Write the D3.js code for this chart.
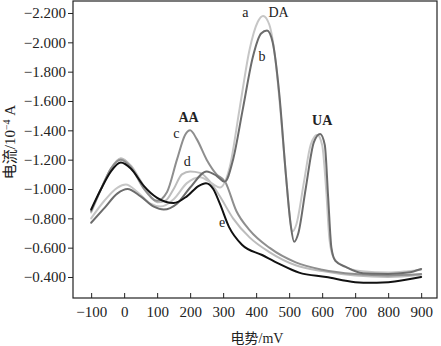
<!DOCTYPE html>
<html><head><meta charset="utf-8">
<script src="https://cdn.jsdelivr.net/npm/d3@7"></script>
<style>
html,body{margin:0;padding:0;background:#fff;}
svg{display:block;}
text{font-family:"Liberation Serif","Times New Roman","Noto Sans CJK SC",serif;fill:#222;}
</style></head>
<body>
<svg id="chart" width="441" height="346"></svg>
<script>
// potential (mV) vs current (10^-4 A, negative values)
const curveA = [[-100,-0.80],[-60,-0.92],[-20,-1.01],[5,-1.03],[40,-0.98],[80,-0.90],[110,-0.88],[150,-0.93],[190,-1.04],[230,-1.08],[265,-1.04],[290,-1.01],[320,-1.15],[350,-1.55],[380,-1.95],[405,-2.14],[421,-2.18],[440,-2.12],[460,-1.85],[475,-1.50],[490,-1.10],[500,-0.85],[509,-0.71],[522,-0.76],[545,-1.05],[565,-1.30],[585,-1.37],[600,-1.30],[612,-1.00],[622,-0.66],[635,-0.53],[660,-0.48],[720,-0.44],[800,-0.43],[860,-0.44],[900,-0.45]];
const curveB = [[-100,-0.77],[-60,-0.87],[-20,-0.97],[10,-1.00],[50,-0.95],[90,-0.88],[120,-0.86],[160,-0.90],[200,-1.01],[250,-1.12],[280,-1.09],[305,-1.05],[330,-1.20],[360,-1.55],[390,-1.90],[415,-2.06],[433,-2.08],[450,-2.00],[470,-1.65],[490,-1.10],[505,-0.75],[515,-0.64],[528,-0.70],[550,-1.00],[575,-1.32],[594,-1.375],[608,-1.30],[618,-0.95],[628,-0.60],[640,-0.51],[670,-0.47],[724,-0.425],[800,-0.42],[860,-0.43],[900,-0.455]];
const curveC = [[-100,-0.85],[-70,-1.00],[-40,-1.14],[-10,-1.20],[20,-1.15],[60,-1.00],[100,-0.92],[130,-0.98],[160,-1.20],[185,-1.37],[200,-1.40],[220,-1.34],[250,-1.20],[280,-1.10],[306,-1.05],[340,-0.85],[380,-0.72],[440,-0.60],[520,-0.50],[600,-0.45],[700,-0.42],[800,-0.41],[900,-0.42]];
const curveD = [[-100,-0.84],[-70,-1.00],[-40,-1.14],[-10,-1.21],[20,-1.16],[60,-1.02],[100,-0.91],[125,-0.92],[150,-1.00],[175,-1.10],[200,-1.12],[230,-1.11],[260,-1.05],[290,-0.95],[330,-0.80],[380,-0.67],[440,-0.57],[520,-0.48],[600,-0.44],[700,-0.41],[800,-0.40],[900,-0.415]];
const curveE = [[-100,-0.86],[-70,-1.00],[-40,-1.12],[-10,-1.18],[20,-1.14],[60,-1.02],[100,-0.94],[150,-0.905],[190,-0.95],[225,-1.02],[248,-1.04],[270,-1.00],[290,-0.90],[318,-0.74],[357,-0.62],[418,-0.55],[470,-0.49],[530,-0.43],[612,-0.40],[700,-0.365],[750,-0.36],[820,-0.37],[900,-0.40]];
const seriesNames = ["a","b","c","d","e"];
const xTicks = [-100,0,100,200,300,400,500,600,700,800,900];
const yTicks = [-2.2,-2.0,-1.8,-1.6,-1.4,-1.2,-1.0,-0.8,-0.6,-0.4];
const peakLabels = [{t:"a",x:367,y:-2.20,b:false},{t:"DA",x:468,y:-2.20,b:false},{t:"b",x:418,y:-1.90,b:false},
  {t:"AA",x:195,y:-1.49,b:true},{t:"c",x:158,y:-1.375,b:false},{t:"d",x:191,y:-1.19,b:false},
  {t:"e",x:297,y:-0.77,b:false},{t:"UA",x:600,y:-1.47,b:true}];

const svg = d3.select("#chart");
const L=73,R=437,T=1,B=298;
const x = d3.scaleLinear().domain([-155,948]).range([L,R]);
const y = d3.scaleLinear().domain([-2.2818,-0.2568]).range([T,B]);

const data = [curveA,curveB,curveC,curveD,curveE];
const colors = ["#c6c6c6","#6c6c6c","#8e8e8e","#bcbcbc","#111111"];
const widths = [2,2,2,2,2];
const line = d3.line().x(d=>x(d[0])).y(d=>y(d[1])).curve(d3.curveMonotoneX);

const drawOrder=[3,2,0,1,4];
drawOrder.forEach(i=>{
  svg.append("path").datum(data[i]).attr("d",line)
    .attr("fill","none").attr("stroke",colors[i]).attr("stroke-width",widths[i])
    .attr("stroke-linejoin","round").attr("stroke-linecap","round");
});

// frame
svg.append("rect").attr("x",L).attr("y",T).attr("width",R-L).attr("height",B-T)
  .attr("fill","none").attr("stroke","#222").attr("stroke-width",1.2);

const fmt = d3.format(".3f");
const gx = svg.append("g").attr("transform",`translate(0,${B})`)
  .call(d3.axisBottom(x).tickValues(xTicks).tickSizeInner(-5).tickSizeOuter(0).tickPadding(8).tickFormat(d3.format("d")));
const gy = svg.append("g").attr("transform",`translate(${L},0)`)
  .call(d3.axisLeft(y).tickValues(yTicks).tickSizeInner(5).tickSizeOuter(0).tickPadding(2).tickFormat(fmt));
[gx,gy].forEach(g=>{
  g.select(".domain").remove();
  g.selectAll("line").attr("stroke","#222");
  g.selectAll("text").attr("font-size",15).attr("fill","#222")
   .attr("font-family","'Liberation Serif',serif");
});
gx.selectAll("text").text(d=>d<0?"\u2212"+Math.abs(d):d);

// axis titles
svg.append("text").attr("x",257).attr("y",338).attr("text-anchor","middle")
  .attr("dominant-baseline","central").attr("font-size",14).text("电势/mV");
const yt = svg.append("text").attr("transform","translate(15,142) rotate(-90)")
  .attr("text-anchor","middle").attr("font-size",15);
yt.append("tspan").text("电流/10");
yt.append("tspan").attr("dy",-5).attr("font-size",10).text("\u22124");
yt.append("tspan").attr("dy",5).text(" A");

// peak labels
peakLabels.forEach(p=>{
  svg.append("text").attr("x",x(p.x)).attr("y",y(p.y)).attr("text-anchor","middle")
    .attr("dominant-baseline","central").attr("fill","#222")
    .attr("font-size",14).attr("font-weight",p.b?"bold":"normal").text(p.t);
});
</script>
</body></html>
